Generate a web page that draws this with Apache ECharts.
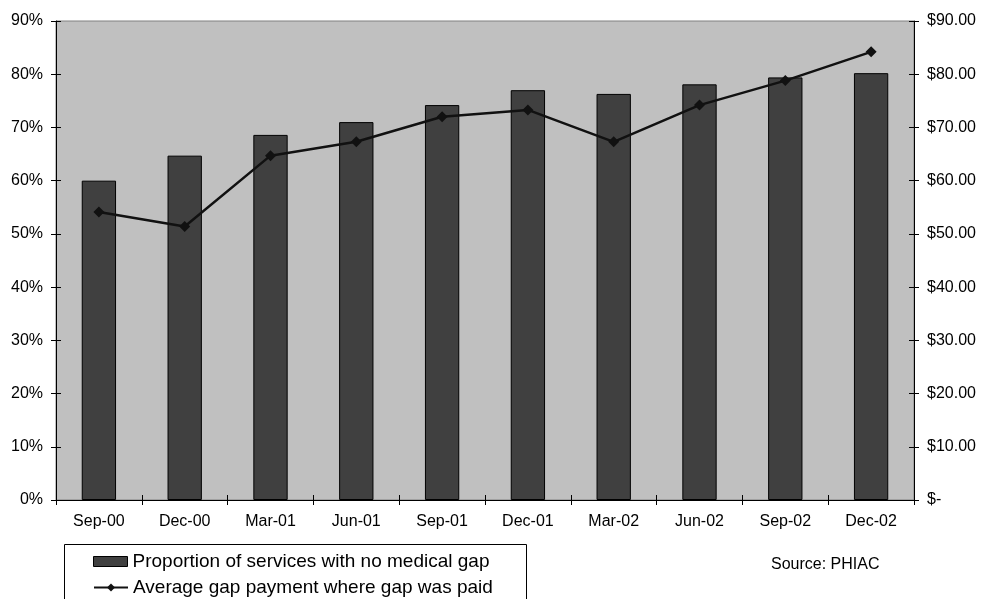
<!DOCTYPE html>
<html>
<head>
<meta charset="utf-8">
<script src="https://cdn.jsdelivr.net/npm/echarts@6/dist/echarts.min.js"></script>
<style>
html,body{margin:0;padding:0;background:#fff;}
#chart{width:986px;height:599px;}
</style>
</head>
<body>
<div id="chart"></div>
<script>
var categories = ['Sep-00','Dec-00','Mar-01','Jun-01','Sep-01','Dec-01','Mar-02','Jun-02','Sep-02','Dec-02'];
var proportionNoGap = [60.0, 64.7, 68.6, 71.0, 74.2, 77.0, 76.3, 78.1, 79.4, 80.2];
var avgGapPayment = [54.1, 51.4, 64.7, 67.3, 72.0, 73.3, 67.3, 74.2, 78.8, 84.2];
var barName = 'Proportion of services with no medical gap';
var lineName = 'Average gap payment where gap was paid';
var sourceText = 'Source: PHIAC';

var FONT = '"Liberation Sans", Arial, sans-serif';
var chart = echarts.init(document.getElementById('chart'));

function yAx(pos, inside, fmt) {
  return {
    type: 'value', position: pos, min: 0, max: 90, interval: 10,
    axisLine: {show: !inside, lineStyle: {color: '#000', width: 1}},
    axisTick: {show: true, inside: inside, length: 5, lineStyle: {color: '#000', width: 1}},
    axisLabel: {show: !inside, margin: 13, color: '#000', fontSize: 16, fontFamily: FONT, formatter: fmt},
    splitLine: {show: false}
  };
}

function leg(top, item) {
  return {
    orient: 'horizontal', left: 93, top: top,
    padding: 0, itemWidth: 34, itemHeight: 10, itemGap: 4,
    textStyle: {fontSize: 19, fontFamily: FONT, color: '#000'},
    data: [item]
  };
}

chart.setOption({
  animation: false,
  backgroundColor: '#fff',
  grid: {left: 56, right: 72, top: 21, bottom: 99, show: true, backgroundColor: '#c0c0c0', borderColor: '#808080', borderWidth: 1},
  legend: [
    leg(552, {name: barName, icon: 'rect', itemStyle: {color: '#404040', borderColor: '#000', borderWidth: 1}}),
    leg(578, {name: lineName})
  ],
  xAxis: [
    {
      type: 'category', data: categories, position: 'bottom', boundaryGap: true,
      axisLine: {lineStyle: {color: '#000', width: 1}},
      axisTick: {show: true, length: 5, lineStyle: {color: '#000'}},
      axisLabel: {margin: 14, color: '#000', fontSize: 16, fontFamily: FONT}
    },
    {
      type: 'category', data: categories, position: 'bottom', boundaryGap: true,
      axisLine: {show: false},
      axisTick: {show: true, inside: true, length: 5, lineStyle: {color: '#000'}},
      axisLabel: {show: false}
    }
  ],
  yAxis: [
    yAx('left', false, function (v) { return v + '%'; }),
    yAx('right', false, function (v) { return v === 0 ? '$-' : '$' + v.toFixed(2); }),
    yAx('left', true, null),
    yAx('right', true, null)
  ],
  series: [
    {
      name: barName, type: 'bar', data: proportionNoGap, xAxisIndex: 0, yAxisIndex: 0,
      barWidth: '40%',
      itemStyle: {color: '#404040', borderColor: '#000', borderWidth: 1}
    },
    {
      name: lineName, type: 'line', data: avgGapPayment, xAxisIndex: 0, yAxisIndex: 1,
      symbol: 'diamond', symbolSize: 11, z: 5,
      lineStyle: {color: '#111', width: 2.5},
      itemStyle: {color: '#111'}
    }
  ],
  graphic: [
    {type: 'rect', shape: {x: 64.5, y: 544.5, width: 462, height: 80}, style: {fill: 'none', stroke: '#000', lineWidth: 1}, silent: true},
    {type: 'text', left: 771, top: 557, style: {text: sourceText, fontSize: 16, fontFamily: FONT, fill: '#000'}}
  ]
});
</script>
</body>
</html>
